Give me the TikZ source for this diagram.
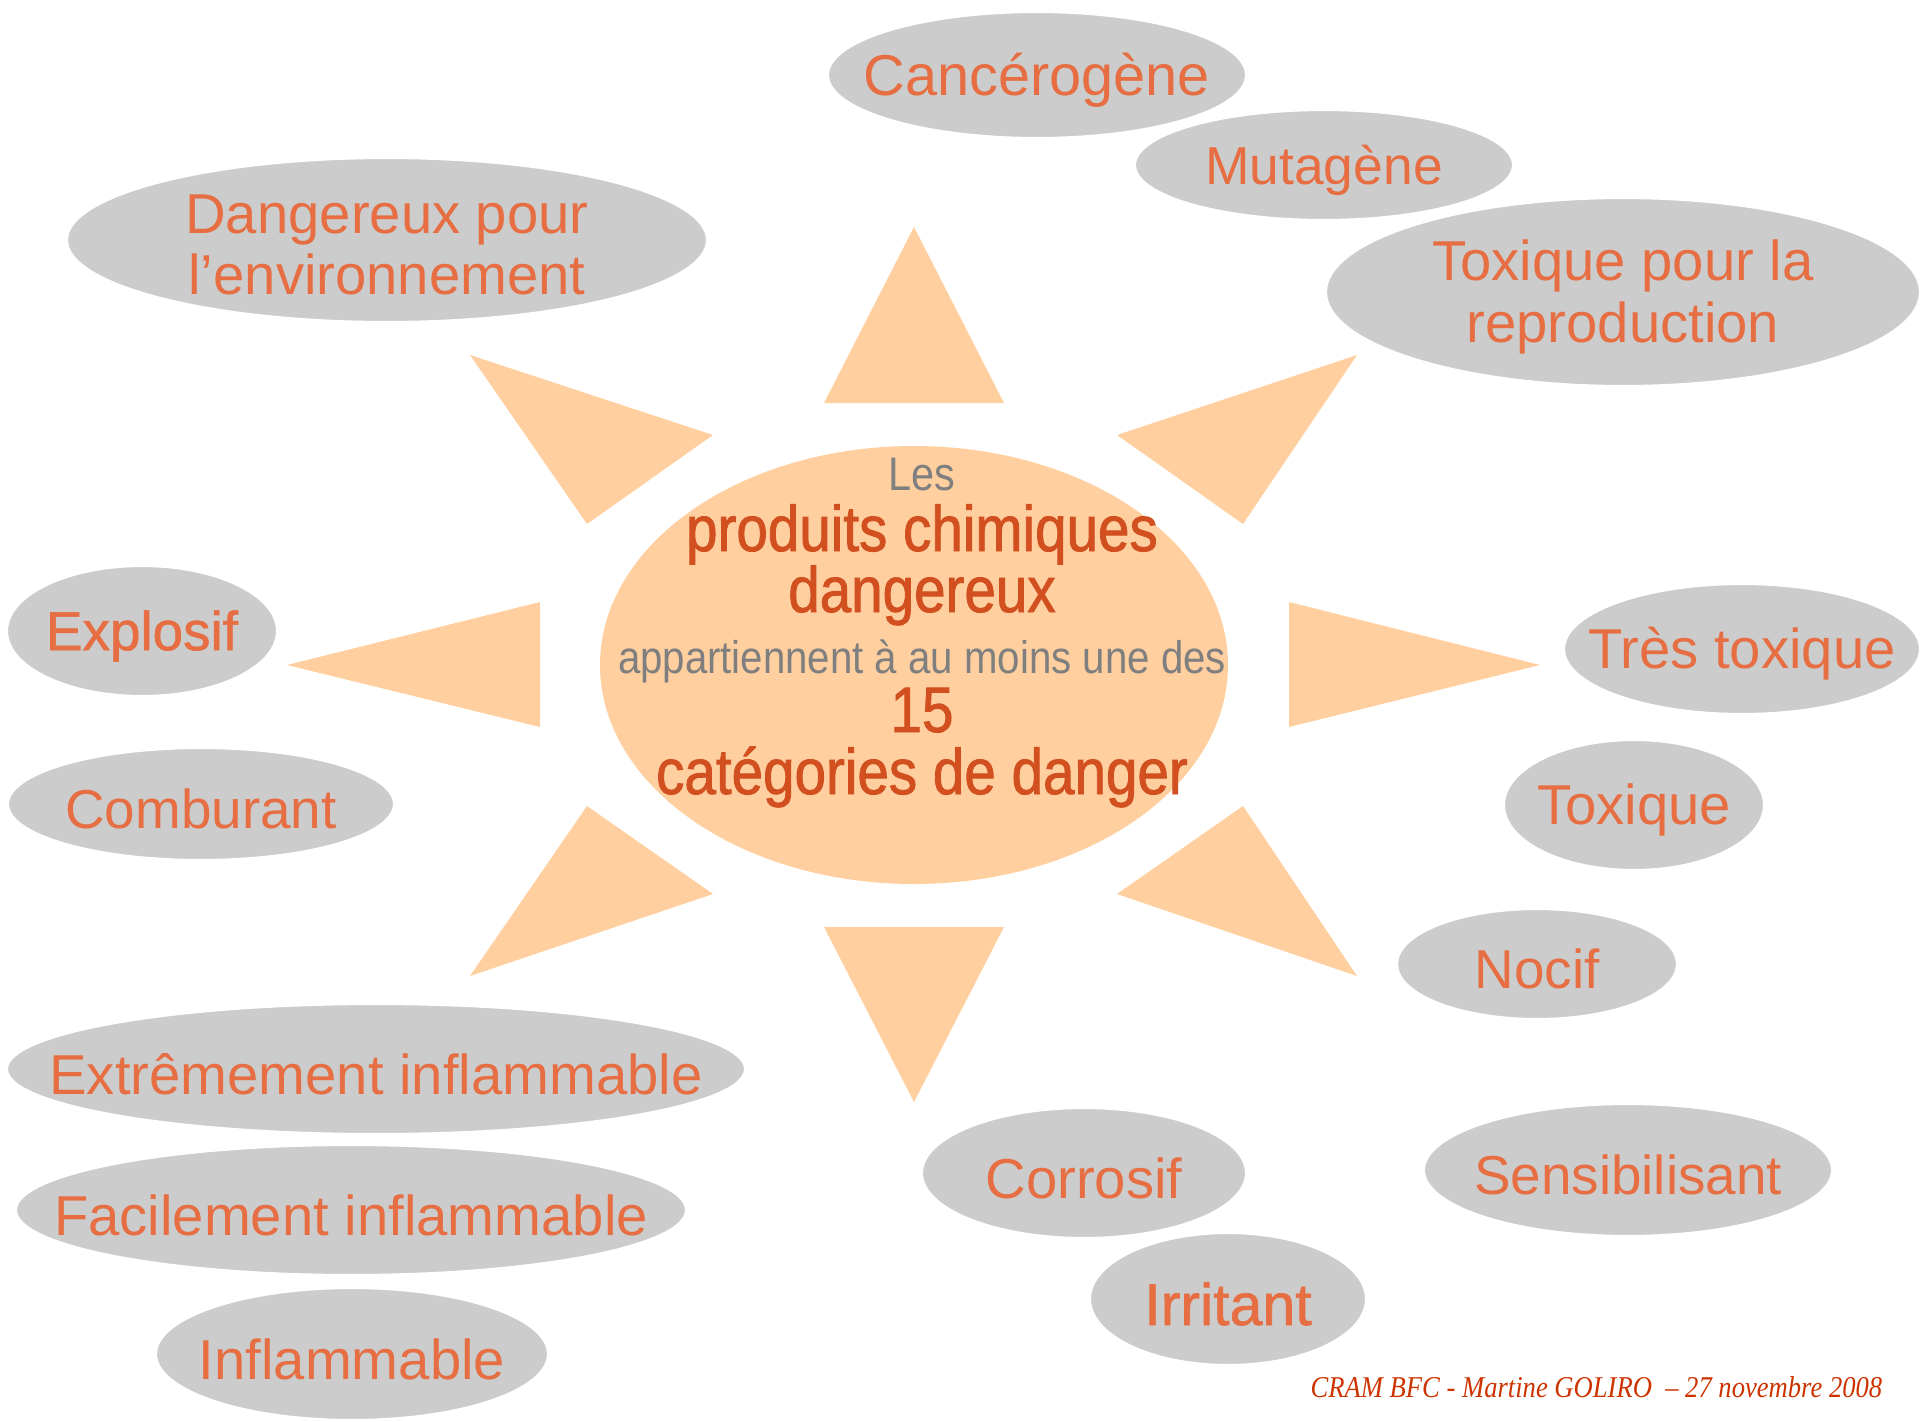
\documentclass[tikz,border=0pt]{standalone}
\usepackage{fontspec}
\setmainfont{Liberation Sans}
\newfontfamily\centrefont{Liberation Sans}[FakeStretch=0.88]
\newfontfamily\centregras{Liberation Sans}[FakeStretch=0.88,FakeBold=1.3]
\newfontfamily\grasfont{Liberation Sans}[FakeBold=1.1]
\newfontfamily\piedfont{Liberation Serif}[FakeStretch=0.88]
\usetikzlibrary{shapes.geometric}

\definecolor{peche}{HTML}{FFCF9F}
\definecolor{grisfond}{HTML}{CCCCCC}
\definecolor{orangetxt}{HTML}{E66E42}
\definecolor{orangefonce}{HTML}{D24F1F}
\definecolor{gristxt}{HTML}{7F7F7F}
\definecolor{rougepied}{HTML}{CC3300}

\begin{document}
\begin{tikzpicture}[x=0.1mm,y=-0.1mm,
    cat/.style 2 args={ellipse,fill=grisfond,draw=white,line width=0.6pt,inner sep=0pt,minimum width=#1,minimum height=#2},
    lib/.style={text=orangetxt,align=center,inner sep=0pt,yshift=-1.4pt,font=\fontsize{16}{17.6}\selectfont},
    rayon/.style={fill=peche},
    titre/.style={anchor=base,inner sep=0pt,text=orangefonce,font=\centregras\fontsize{18.3}{17.3}\selectfont},
    soustitre/.style={anchor=base,inner sep=0pt,text=gristxt,font=\centrefont\fontsize{13}{17.3}\selectfont}]

    \useasboundingbox (0,0) rectangle (1920,1421);

    % rayons
    \fill[rayon] (914,227) -- (824,403) -- (1004,403) -- cycle;
    \fill[rayon] (914,1102) -- (824,927) -- (1004,927) -- cycle;
    \fill[rayon] (287,665) -- (540,602) -- (540,727) -- cycle;
    \fill[rayon] (1540,665) -- (1289,602) -- (1289,727) -- cycle;
    \fill[rayon] (470,355) -- (713,435) -- (587,524) -- cycle;
    \fill[rayon] (1357,355) -- (1117,435) -- (1243,524) -- cycle;
    \fill[rayon] (587,806) -- (713,894) -- (470,976) -- cycle;
    \fill[rayon] (1243,806) -- (1117,894) -- (1357,976) -- cycle;

    % centre
    \node[ellipse,fill=peche,inner sep=0pt,minimum width=62.8mm,minimum height=43.8mm] (centre) at (914,665) {};
    \node[soustitre,font=\centrefont\fontsize{13.4}{17.3}\selectfont] (les) at (922,490) {Les};
    \node[titre] (produits) at (922,551) {produits chimiques};
    \node[titre] (dangereux) at (922,612) {dangereux};
    \node[soustitre] (appart) at (922,673) {appartiennent à au moins une des};
    \node[titre] (quinze) at (922,732) {15};
    \node[titre] (categ) at (922,794) {catégories de danger};

    % categories
    \node[cat={41.8mm}{12.6mm},label={[lib,font=\fontsize{16.4}{17.6}\selectfont]center:Cancérogène}] (canc) at (1037,75) {};
    \node[cat={37.8mm}{11mm},label={[lib,font=\fontsize{15.2}{17.6}\selectfont]center:Mutagène}] (muta) at (1324,165) {};
    \node[cat={59.4mm}{18.8mm},label={[lib]center:Toxique pour la\\reproduction}] (repro) at (1623,292) {};
    \node[cat={64mm}{16.4mm},label={[lib]center:Dangereux pour\\l’environnement}] (envir) at (387,240) {};
    \node[cat={27mm}{13mm},label={[lib,font=\grasfont\fontsize{15.6}{17.6}\selectfont]center:Explosif}] (explo) at (142,631) {};
    \node[cat={38.6mm}{11.2mm},label={[lib,font=\fontsize{15.6}{17.6}\selectfont]center:Comburant}] (combu) at (201,804) {};
    \node[cat={35.6mm}{13mm},label={[lib]center:Très toxique}] (trestox) at (1742,649) {};
    \node[cat={26mm}{13mm},label={[lib]center:Toxique}] (tox) at (1634,805) {};
    \node[cat={28mm}{11mm},label={[lib,font=\fontsize{15.6}{17.6}\selectfont]center:Nocif}] (nocif) at (1537,964) {};
    \node[cat={73.8mm}{13mm},label={[lib]center:Extrêmement inflammable}] (extreme) at (376,1069) {};
    \node[cat={67mm}{13mm},label={[lib]center:Facilement inflammable}] (facile) at (351,1210) {};
    \node[cat={39.2mm}{13.2mm},label={[lib]center:Inflammable}] (inflam) at (352,1354) {};
    \node[cat={32.4mm}{13mm},label={[lib]center:Corrosif}] (corro) at (1084,1173) {};
    \node[cat={40.8mm}{13.2mm},label={[lib,font=\fontsize{15.6}{17.6}\selectfont]center:Sensibilisant}] (sensib) at (1628,1170) {};
    \node[cat={27.6mm}{13.2mm},label={[lib,font=\grasfont\fontsize{16.8}{17.6}\selectfont]center:Irritant}] (irrit) at (1228,1299) {};

    % pied de page
    \node[anchor=base west,inner sep=0pt,text=rougepied,font=\piedfont\itshape\fontsize{8.6}{10}\selectfont] (pied) at (1310,1397) {CRAM BFC - Martine GOLIRO \ – 27 novembre 2008};
\end{tikzpicture}
\end{document}
